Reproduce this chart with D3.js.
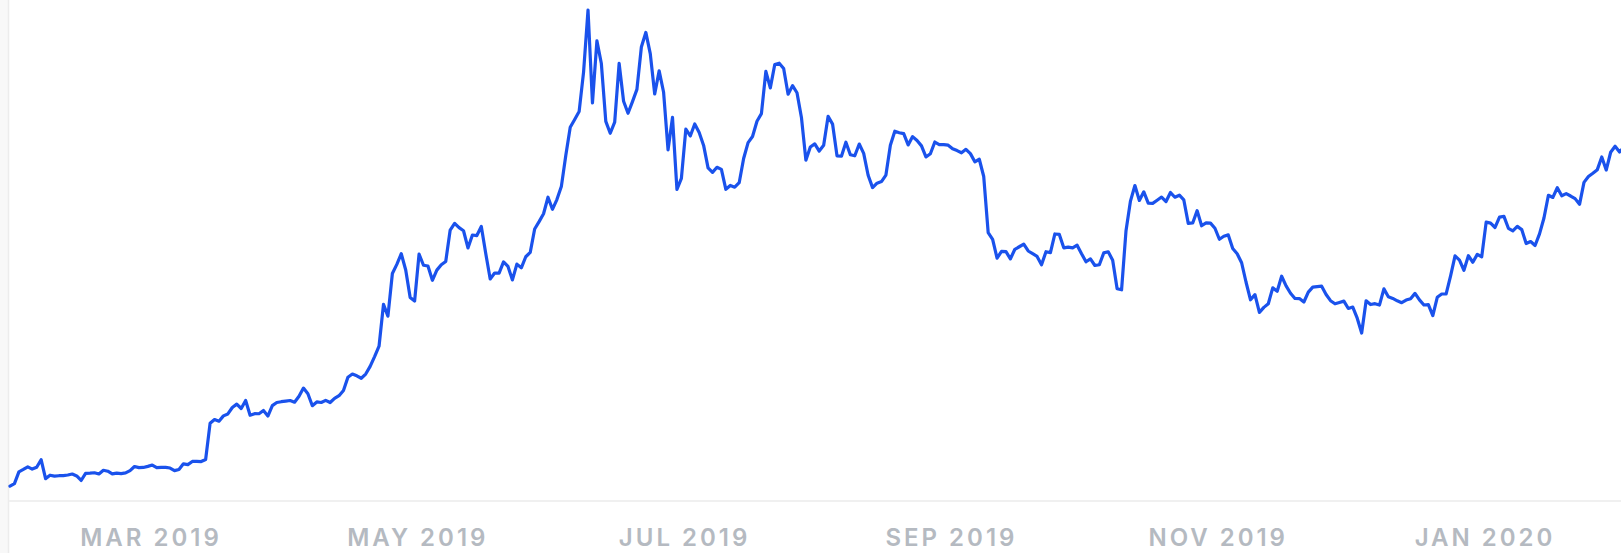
<!DOCTYPE html>
<html>
<head>
<meta charset="utf-8">
<script src="https://cdn.jsdelivr.net/npm/d3@7"></script>
<style>
  html, body { margin: 0; padding: 0; background: #ffffff; }
  svg { display: block; }
</style>
</head>
<body>
<svg id="chart" width="1621" height="553"></svg>
<script>
// ---- Data: daily closing price (USD) ----
const startDate = "2019-02-16";
const endDate = "2020-02-14";
const feb2019 = [3618, 3667, 3899, 3947, 3999, 3954, 3990, 4139, 3766, 3833, 3814, 3823, 3826];
const mar2019 = [3837, 3857, 3818, 3729, 3869, 3874, 3882, 3857, 3931, 3912, 3860, 3875, 3866, 3878, 3924, 4005, 3982, 3986, 4007, 4033, 3981, 3988, 3988, 3975, 3923, 3947, 4058, 4042, 4105, 4105, 4103];
const apr2019 = [4144, 4857, 4932, 4899, 5004, 5043, 5170, 5236, 5150, 5308, 5018, 5048, 5046, 5110, 5001, 5207, 5269, 5284, 5296, 5308, 5275, 5391, 5553, 5442, 5205, 5279, 5269, 5311, 5268, 5350];
const may2019 = [5403, 5505, 5768, 5831, 5795, 5747, 5830, 5982, 6174, 6379, 7204, 6972, 7815, 7994, 8205, 7884, 7343, 7271, 8197, 7978, 7963, 7681, 7881, 7987, 8052, 8673, 8805, 8719, 8659, 8319, 8575];
const jun2019 = [8564, 8742, 8208, 7707, 7824, 7822, 8043, 7954, 7688, 8000, 7927, 8145, 8230, 8693, 8838, 8994, 9320, 9082, 9274, 9530, 10144, 10701, 10855, 11011, 11790, 13016, 11182, 12407, 11959, 10817];
const jul2019 = [10583, 10801, 11961, 11215, 10978, 11208, 11450, 12285, 12573, 12156, 11358, 11815, 11392, 10256, 10895, 9477, 9693, 10666, 10530, 10767, 10599, 10343, 9900, 9811, 9911, 9870, 9477, 9552, 9519, 9607, 10085];
const aug2019 = [10399, 10518, 10821, 10970, 11805, 11478, 11941, 11966, 11862, 11354, 11523, 11382, 10895, 10051, 10311, 10374, 10231, 10345, 10918, 10764, 10138, 10131, 10407, 10159, 10138, 10370, 10185, 9754, 9510, 9598, 9630];
const sep2019 = [9757, 10346, 10623, 10594, 10575, 10353, 10517, 10441, 10334, 10115, 10178, 10410, 10360, 10358, 10347, 10276, 10241, 10198, 10266, 10181, 10019, 10070, 9729, 8620, 8486, 8118, 8251, 8245, 8104, 8293];
const oct2019 = [8343, 8393, 8259, 8205, 8151, 7988, 8245, 8228, 8595, 8586, 8321, 8336, 8321, 8374, 8205, 8047, 8103, 7973, 7988, 8222, 8243, 8078, 7514, 7493, 8660, 9244, 9551, 9256, 9427, 9205, 9199];
const nov2019 = [9261, 9324, 9235, 9413, 9320, 9360, 9267, 8804, 8813, 9055, 8757, 8815, 8808, 8708, 8491, 8550, 8577, 8309, 8206, 8027, 7642, 7296, 7397, 7047, 7146, 7218, 7531, 7463, 7761, 7569];
const dec2019 = [7424, 7321, 7320, 7252, 7448, 7546, 7556, 7564, 7400, 7278, 7217, 7243, 7269, 7124, 7152, 6932, 6640, 7276, 7202, 7219, 7191, 7511, 7355, 7322, 7275, 7238, 7290, 7317, 7422, 7293, 7193];
const jan2020 = [7200, 6985, 7345, 7410, 7411, 7769, 8163, 8079, 7879, 8166, 8037, 8192, 8145, 8828, 8808, 8723, 8929, 8942, 8707, 8658, 8745, 8681, 8407, 8445, 8368, 8597, 8910, 9358, 9316, 9508, 9350];
const feb2020 = [9392, 9344, 9293, 9180, 9613, 9729, 9795, 9865, 10116, 9856, 10208, 10326, 10214, 10312];
const tickLabels = ["MAR 2019", "MAY 2019", "JUL 2019", "SEP 2019", "NOV 2019", "JAN 2020"];
const yMin = 3324, yMax = 13016;

// ---- Build series ----
const prices = [].concat(feb2019, mar2019, apr2019, may2019, jun2019, jul2019, aug2019,
                         sep2019, oct2019, nov2019, dec2019, jan2020, feb2020);
const parse = d3.utcParse("%Y-%m-%d");
const t0 = parse(startDate), t1 = parse(endDate);
const data = prices.map((v, i) => ({ date: d3.utcDay.offset(t0, i), value: v }));

const W = 1621, H = 553;
const svg = d3.select("#chart");

const x = d3.scaleUtc().domain([t0, t1]).range([10, 1624]);
const y = d3.scaleLinear().domain([yMin, yMax]).range([501, 10]);

// left gutter strip
svg.append("rect").attr("x", 0).attr("y", 0).attr("width", 8).attr("height", H).attr("fill", "#f8f8f8");
svg.append("line").attr("x1", 8.5).attr("x2", 8.5).attr("y1", 0).attr("y2", H)
  .attr("stroke", "#ececec").attr("stroke-width", 1.5);

// baseline
svg.append("line").attr("x1", 9).attr("x2", W).attr("y1", 501).attr("y2", 501)
  .attr("stroke", "#f0f0f0").attr("stroke-width", 2);

// price line
const line = d3.line().x(d => x(d.date)).y(d => y(d.value)).curve(d3.curveLinear);
svg.append("path").datum(data)
  .attr("d", line)
  .attr("fill", "none")
  .attr("stroke", "#1a52ec")
  .attr("stroke-width", 3.2)
  .attr("stroke-linejoin", "round")
  .attr("stroke-linecap", "round");

// month labels
const lx = d3.scalePoint().domain(tickLabels).range([151, 1485]);
svg.append("g").selectAll("text").data(tickLabels).join("text")
  .attr("x", d => lx(d))
  .attr("y", 546)
  .attr("text-anchor", "middle")
  .attr("fill", "#b5bac1")
  .attr("font-family", "Inter, 'Open Sans', sans-serif")
  .attr("font-weight", 600)
  .attr("font-size", 24)
  .attr("letter-spacing", 3)
  .text(d => d);
</script>
</body>
</html>
